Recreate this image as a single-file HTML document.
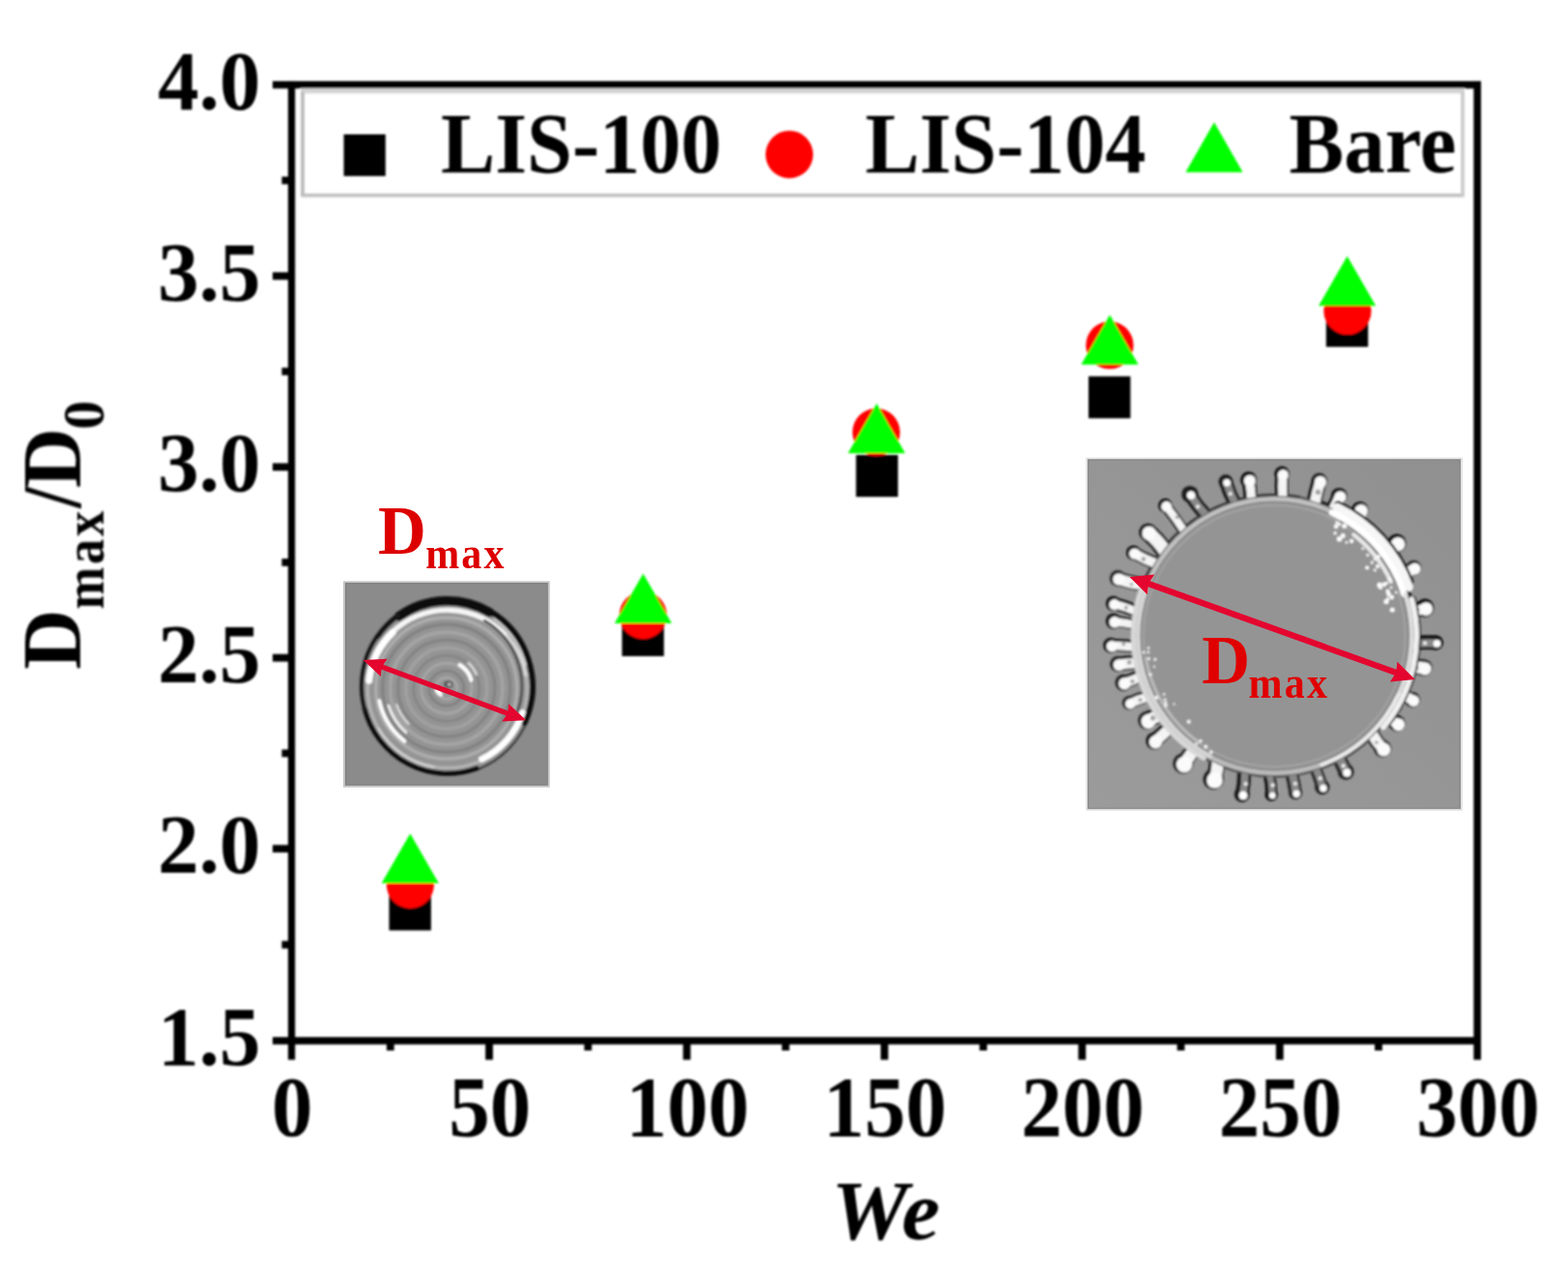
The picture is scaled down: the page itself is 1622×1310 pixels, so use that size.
<!DOCTYPE html>
<html lang="en"><head><meta charset="utf-8"><title>Dmax/D0 versus We</title>
<style>
html,body{margin:0;padding:0;background:#fff;}
body{width:1622px;height:1310px;overflow:hidden;}
svg{display:block;}
text{font-family:"Liberation Serif", "DejaVu Serif", serif;font-weight:bold;}
.tick{font-size:85px;fill:#000;}
.leg{font-size:85px;fill:#000;}
.red{fill:#dc0000;}
</style></head><body>
<svg width="1622" height="1310" viewBox="0 0 1622 1310">
<rect x="0" y="0" width="1622" height="1310" fill="#ffffff"/>
<defs><filter id="softAll" x="0" y="0" width="1622" height="1310" filterUnits="userSpaceOnUse"><feGaussianBlur stdDeviation="0.8"/></filter></defs>
<g filter="url(#softAll)">
<g fill="#000">
<rect x="282.00" y="83.95" width="1250.00" height="7.60"/>
<rect x="282.00" y="1073.10" width="1250.00" height="7.60"/>
<rect x="297.95" y="83.95" width="7.30" height="1012.65"/>
<rect x="1524.40" y="83.95" width="7.60" height="1012.65"/>
<rect x="282.00" y="874.30" width="19.60" height="7.80"/>
<rect x="282.00" y="676.80" width="19.60" height="7.80"/>
<rect x="282.00" y="479.30" width="19.60" height="7.80"/>
<rect x="282.00" y="281.70" width="19.60" height="7.80"/>
<rect x="291.50" y="973.65" width="10.10" height="7.80"/>
<rect x="291.50" y="775.55" width="10.10" height="7.80"/>
<rect x="291.50" y="578.05" width="10.10" height="7.80"/>
<rect x="291.50" y="380.50" width="10.10" height="7.80"/>
<rect x="291.50" y="182.78" width="10.10" height="7.80"/>
<rect x="502.13" y="1076.90" width="7.80" height="19.70"/>
<rect x="706.57" y="1076.90" width="7.80" height="19.70"/>
<rect x="911.00" y="1076.90" width="7.80" height="19.70"/>
<rect x="1115.43" y="1076.90" width="7.80" height="19.70"/>
<rect x="1319.87" y="1076.90" width="7.80" height="19.70"/>
<rect x="399.92" y="1076.90" width="7.80" height="10.10"/>
<rect x="604.35" y="1076.90" width="7.80" height="10.10"/>
<rect x="808.78" y="1076.90" width="7.80" height="10.10"/>
<rect x="1013.22" y="1076.90" width="7.80" height="10.10"/>
<rect x="1217.65" y="1076.90" width="7.80" height="10.10"/>
<rect x="1422.08" y="1076.90" width="7.80" height="10.10"/>
</g>
<text class="tick" transform="translate(269.50,1101.90) scale(1.0000,1.0300)" text-anchor="end">1.5</text>
<text class="tick" transform="translate(269.50,903.20) scale(1.0000,1.0300)" text-anchor="end">2.0</text>
<text class="tick" transform="translate(269.50,705.70) scale(1.0000,1.0300)" text-anchor="end">2.5</text>
<text class="tick" transform="translate(269.50,508.20) scale(1.0000,1.0300)" text-anchor="end">3.0</text>
<text class="tick" transform="translate(269.50,310.60) scale(1.0000,1.0300)" text-anchor="end">3.5</text>
<text class="tick" transform="translate(269.50,112.75) scale(1.0000,1.0300)" text-anchor="end">4.0</text>
<text class="tick" transform="translate(302.30,1174.50) scale(1.0000,1.0400)" text-anchor="middle">0</text>
<text class="tick" transform="translate(506.73,1174.50) scale(1.0000,1.0400)" text-anchor="middle">50</text>
<text class="tick" transform="translate(711.17,1174.50) scale(1.0000,1.0400)" text-anchor="middle">100</text>
<text class="tick" transform="translate(915.60,1174.50) scale(1.0000,1.0400)" text-anchor="middle">150</text>
<text class="tick" transform="translate(1120.03,1174.50) scale(1.0000,1.0400)" text-anchor="middle">200</text>
<text class="tick" transform="translate(1324.47,1174.50) scale(1.0000,1.0400)" text-anchor="middle">250</text>
<text class="tick" transform="translate(1528.90,1174.50) scale(1.0000,1.0400)" text-anchor="middle">300</text>
<text class="tick" transform="translate(860.10,1282.00) scale(1.0500,1.0300)" text-anchor="start" style="font-style:italic">We</text>
<g transform="translate(83.0,692.7) rotate(-90)">
<text class="tick" transform="translate(0.00,0.00) scale(1.0120,1.0300)" style="font-size:85.0px;letter-spacing:0.00px">D</text>
<text class="tick" transform="translate(62.30,23.70) scale(1.0000,1.1400)" style="font-size:52.5px;letter-spacing:2.80px">max</text>
<text class="tick" transform="translate(167.10,0.00) scale(0.9200,1.0300)" style="font-size:85.0px;letter-spacing:0.00px">/</text>
<text class="tick" transform="translate(187.70,0.00) scale(1.0120,1.0300)" style="font-size:85.0px;letter-spacing:0.00px">D</text>
<text class="tick" transform="translate(248.30,23.50) scale(1.0000,1.0170)" style="font-size:60.0px;letter-spacing:0.00px">0</text>
</g>
<rect x="311.2" y="91.4" width="1203.7" height="5.2" fill="#d4d4d4"/>
<rect x="311.2" y="199.6" width="1203.7" height="1.2" fill="#eeeeee"/>
<rect x="311.2" y="200.8" width="1203.7" height="2.0" fill="#ababab"/>
<rect x="311.2" y="202.8" width="1203.7" height="1.6" fill="#d6d6d6"/>
<rect x="311.2" y="95" width="3.7" height="108" fill="#b9b9b9"/>
<rect x="1511.2" y="95" width="3.7" height="108" fill="#cacaca"/>
<rect x="355.6" y="139" width="43.2" height="43.2" fill="#000"/>
<text class="leg" transform="translate(456.00,177.60) scale(0.9920,1.0450)" text-anchor="start">LIS-100</text>
<circle cx="816.5" cy="159.8" r="24.6" fill="#ff0000"/>
<text class="leg" transform="translate(895.00,177.60) scale(0.9920,1.0450)" text-anchor="start">LIS-104</text>
<polygon points="1256,126.4 1285.6,178.2 1226.4,178.2" fill="#00ff00"/>
<text class="leg" transform="translate(1333.50,177.60) scale(1.0000,1.0450)" text-anchor="start">Bare</text>
<rect x="402.5" y="919.3" width="43.4" height="43.4" fill="#000"/>
<rect x="643.4" y="635.6" width="43.4" height="43.4" fill="#000"/>
<rect x="885.5" y="470.7" width="43.4" height="43.4" fill="#000"/>
<rect x="1126.0" y="389.4" width="43.4" height="43.4" fill="#000"/>
<rect x="1371.8" y="315.5" width="43.4" height="43.4" fill="#000"/>
<circle cx="424.4" cy="915.3" r="24.6" fill="#ff0000"/>
<circle cx="665.2" cy="636.6" r="24.6" fill="#ff0000"/>
<circle cx="906.4" cy="447.2" r="24.6" fill="#ff0000"/>
<circle cx="1147.9" cy="357.2" r="24.6" fill="#ff0000"/>
<circle cx="1393.9" cy="321.7" r="24.6" fill="#ff0000"/>
<polygon points="424.3,862.5 453.9,914.0 394.7,914.0" fill="#00ff00"/>
<polygon points="665.3,593.5 694.9,645.0 635.7,645.0" fill="#00ff00"/>
<polygon points="906.8,417.4 936.4,468.9 877.2,468.9" fill="#00ff00"/>
<polygon points="1148.0,325.8 1177.6,377.3 1118.4,377.3" fill="#00ff00"/>
<polygon points="1393.6,264.9 1423.2,316.4 1364.0,316.4" fill="#00ff00"/>
</g>
<defs><filter id="blurA" x="-5%" y="-5%" width="110%" height="110%"><feGaussianBlur stdDeviation="1.1"/></filter><linearGradient id="gradR" x1="0" y1="1" x2="1" y2="0"><stop offset="0" stop-color="#9b9b9b"/><stop offset="1" stop-color="#909090"/></linearGradient><filter id="blurB" x="-5%" y="-5%" width="110%" height="110%"><feGaussianBlur stdDeviation="0.9"/></filter></defs>
<g>
<rect x="355.1" y="601.3" width="213.6" height="213.4" fill="#c4c4c4"/>
<rect x="357.0" y="603.0" width="209.8" height="209.8" fill="#828282"/>
<rect x="358.4" y="604.4" width="207.0" height="207.0" fill="#8b8b8b"/>
<g filter="url(#blurA)">
<ellipse cx="462.8" cy="710.2" rx="88" ry="90" fill="#949494"/>
<ellipse cx="461.8" cy="712.2" rx="73.0" ry="73.0" fill="none" stroke="#aeaeae" stroke-width="3.2"/>
<ellipse cx="461.8" cy="712.2" rx="66.0" ry="66.0" fill="none" stroke="#828282" stroke-width="3.2"/>
<ellipse cx="461.8" cy="712.2" rx="58.0" ry="58.0" fill="none" stroke="#a6a6a6" stroke-width="3.4"/>
<ellipse cx="461.8" cy="712.2" rx="50.0" ry="50.0" fill="none" stroke="#848484" stroke-width="3.2"/>
<ellipse cx="461.8" cy="712.2" rx="42.0" ry="42.0" fill="none" stroke="#a2a2a2" stroke-width="3.2"/>
<ellipse cx="461.8" cy="712.2" rx="34.0" ry="34.0" fill="none" stroke="#868686" stroke-width="3.0"/>
<ellipse cx="461.8" cy="712.2" rx="26.0" ry="26.0" fill="none" stroke="#a6a6a6" stroke-width="3.0"/>
<ellipse cx="461.8" cy="712.2" rx="18.0" ry="18.0" fill="none" stroke="#828282" stroke-width="2.8"/>
<ellipse cx="461.8" cy="712.2" rx="11.0" ry="11.0" fill="none" stroke="#a8a8a8" stroke-width="2.6"/>
<ellipse cx="462.8" cy="710.2" rx="89.5" ry="91.5" fill="none" stroke="#3a3a3a" stroke-width="2.4"/>
<path d="M412.9 637.7 A87.0 88.5 0 0 1 506.3 633.6" fill="none" stroke="#0a0a0a" stroke-width="9.5" stroke-linecap="round" opacity="1.00"/>
<path d="M390.7 658.9 A88.0 89.5 0 0 1 412.3 636.9" fill="none" stroke="#141414" stroke-width="5.0" stroke-linecap="round" opacity="1.00"/>
<path d="M506.8 632.7 A88.0 89.5 0 0 1 542.6 748.0" fill="none" stroke="#101010" stroke-width="6.0" stroke-linecap="round" opacity="1.00"/>
<path d="M493.1 794.8 A88.5 90.0 0 0 1 377.3 733.5" fill="none" stroke="#111111" stroke-width="5.0" stroke-linecap="round" opacity="1.00"/>
<path d="M377.2 733.5 A88.6 90.2 0 0 1 390.2 658.5" fill="none" stroke="#141414" stroke-width="4.2" stroke-linecap="round" opacity="1.00"/>
<ellipse cx="462.8" cy="712.7" rx="82.5" ry="82" fill="none" stroke="#b4b4b4" stroke-width="3.2"/>
<path d="M405.8 654.1 A82.0 81.5 0 0 1 523.7 658.2" fill="none" stroke="#f6f6f6" stroke-width="5.2" stroke-linecap="round" opacity="1.00"/>
<path d="M381.7 704.2 A81.5 81.0 0 0 1 406.2 654.4" fill="none" stroke="#ffffff" stroke-width="7.0" stroke-linecap="round" opacity="1.00"/>
<path d="M540.3 737.7 A81.5 81.0 0 0 1 498.5 785.5" fill="none" stroke="#ffffff" stroke-width="6.6" stroke-linecap="round" opacity="1.00"/>
<path d="M524.1 657.8 A82.5 82.0 0 0 1 544.0 698.5" fill="none" stroke="#dcdcdc" stroke-width="3.0" stroke-linecap="round" opacity="1.00"/>
<path d="M448.5 793.5 A82.5 82.0 0 0 1 391.4 753.7" fill="none" stroke="#cfcfcf" stroke-width="2.4" stroke-linecap="round" opacity="1.00"/>
<path d="M501.3 642.2 A77.0 78.5 0 0 1 535.2 737.0" fill="none" stroke="#484848" stroke-width="2.6" stroke-linecap="round" opacity="1.00"/>
<path d="M511.0 640.2 A84.0 85.5 0 0 1 543.9 688.1" fill="none" stroke="#d8d8d8" stroke-width="1.8" stroke-linecap="round" opacity="1.00"/>
<path d="M418.5 766.9 A72.0 72.0 0 0 1 392.4 725.2" fill="none" stroke="#ffffff" stroke-width="3.8" stroke-linecap="round" opacity="1.00"/>
<path d="M420.0 757.8 A64.0 64.0 0 0 1 401.9 730.0" fill="none" stroke="#f2f2f2" stroke-width="2.6" stroke-linecap="round" opacity="1.00"/>
<path d="M422.5 749.1 A56.0 56.0 0 0 1 410.2 729.4" fill="none" stroke="#dedede" stroke-width="2.2" stroke-linecap="round" opacity="1.00"/>
<path d="M475.6 688.1 A25.5 25.5 0 0 1 487.4 703.6" fill="none" stroke="#ffffff" stroke-width="4.0" stroke-linecap="round" opacity="1.00"/>
<path d="M484.5 686.0 A32.5 32.5 0 0 1 492.9 698.0" fill="none" stroke="#d8d8d8" stroke-width="2.4" stroke-linecap="round" opacity="1.00"/>
<ellipse cx="453.8" cy="716.2" rx="2.6" ry="5.5" transform="rotate(-40 453.8 716.2)" fill="#ffffff"/>
<ellipse cx="463.8" cy="708.2" rx="5" ry="4" fill="#5c5c5c"/>
<circle cx="464.8" cy="708.2" r="1.8" fill="#c0c0c0"/>
</g>
<polygon points="375.7,682.9 393.9,700.0 394.6,692.8 523.5,740.5 519.3,746.5 544.3,745.3 526.1,728.2 525.4,735.4 396.5,687.7 400.7,681.7" fill="#e4062f"/>
</g>
<g>
<rect x="1123.3" y="473.5" width="389.6" height="365.3" fill="#e0e0e0"/>
<rect x="1125.0" y="475.1" width="386.0" height="362.0" fill="#8c8c8c"/>
<rect x="1126.4" y="476.8" width="383.0" height="359.0" fill="url(#gradR)"/>
<g filter="url(#blurB)">
<path d="M1294.6 517.1 Q1294.1 507.0 1292.4 497.2" fill="none" stroke="#101010" stroke-width="14.1" stroke-linecap="round" transform="translate(-0.8,-0.7)"/>
<circle cx="1291.6" cy="496.5" r="8.5" fill="#101010"/>
<path d="M1277.7 521.0 Q1272.2 510.4 1268.8 499.2" fill="none" stroke="#1c1c1c" stroke-width="14.0" stroke-linecap="round" transform="translate(-0.8,-0.7)"/>
<circle cx="1268.0" cy="498.5" r="7.4" fill="#1c1c1c"/>
<path d="M1248.1 533.5 Q1238.5 523.7 1231.7 512.1" fill="none" stroke="#1c1c1c" stroke-width="13.8" stroke-linecap="round" transform="translate(-0.8,-0.7)"/>
<circle cx="1230.9" cy="511.4" r="8.7" fill="#1c1c1c"/>
<path d="M1225.0 549.7 Q1216.4 536.1 1206.2 523.8" fill="none" stroke="#0a0a0a" stroke-width="11.6" stroke-linecap="round" transform="translate(-0.8,-0.7)"/>
<circle cx="1205.4" cy="523.1" r="7.3" fill="#0a0a0a"/>
<path d="M1205.3 570.4 Q1198.0 559.5 1188.3 551.5" fill="none" stroke="#1c1c1c" stroke-width="18.2" stroke-linecap="round" transform="translate(-0.8,-0.7)"/>
<circle cx="1187.5" cy="550.8" r="9.1" fill="#1c1c1c"/>
<path d="M1196.3 583.4 Q1184.2 579.1 1173.3 572.6" fill="none" stroke="#0a0a0a" stroke-width="13.2" stroke-linecap="round" transform="translate(-0.8,-0.7)"/>
<circle cx="1172.5" cy="571.9" r="7.5" fill="#0a0a0a"/>
<path d="M1185.4 605.3 Q1170.5 604.0 1157.0 599.1" fill="none" stroke="#2a2a2a" stroke-width="14.8" stroke-linecap="round" transform="translate(-0.8,-0.7)"/>
<circle cx="1156.2" cy="598.4" r="8.3" fill="#2a2a2a"/>
<path d="M1177.3 634.0 Q1165.3 627.8 1152.4 625.2" fill="none" stroke="#101010" stroke-width="13.1" stroke-linecap="round" transform="translate(-0.8,-0.7)"/>
<circle cx="1151.6" cy="624.5" r="7.7" fill="#101010"/>
<path d="M1175.7 647.0 Q1164.3 644.3 1152.7 643.3" fill="none" stroke="#1c1c1c" stroke-width="11.7" stroke-linecap="round" transform="translate(-0.8,-0.7)"/>
<circle cx="1151.9" cy="642.6" r="8.2" fill="#1c1c1c"/>
<path d="M1326.9 515.4 Q1326.2 503.2 1326.9 491.0" fill="none" stroke="#101010" stroke-width="13.8" stroke-linecap="round" transform="translate(-0.8,-0.7)"/>
<circle cx="1326.1" cy="490.3" r="7.8" fill="#101010"/>
<path d="M1359.9 521.3 Q1362.1 509.7 1365.5 498.5" fill="none" stroke="#1c1c1c" stroke-width="15.6" stroke-linecap="round" transform="translate(-0.8,-0.7)"/>
<circle cx="1364.7" cy="497.8" r="8.2" fill="#1c1c1c"/>
<path d="M1378.8 528.5 Q1382.6 521.3 1386.0 513.9" fill="none" stroke="#101010" stroke-width="14.4" stroke-linecap="round" transform="translate(-0.8,-0.7)"/>
<circle cx="1385.2" cy="513.2" r="8.3" fill="#101010"/>
<path d="M1400.6 541.2 Q1403.4 534.3 1407.6 528.4" fill="none" stroke="#0a0a0a" stroke-width="14.7" stroke-linecap="round" transform="translate(-0.8,-0.7)"/>
<circle cx="1406.8" cy="527.7" r="8.7" fill="#0a0a0a"/>
<path d="M1433.5 573.4 Q1439.2 567.6 1445.7 562.8" fill="none" stroke="#101010" stroke-width="15.8" stroke-linecap="round" transform="translate(-0.8,-0.7)"/>
<circle cx="1444.9" cy="562.1" r="9.6" fill="#101010"/>
<path d="M1448.4 598.7 Q1455.1 592.1 1463.2 588.3" fill="none" stroke="#2a2a2a" stroke-width="14.2" stroke-linecap="round" transform="translate(-0.8,-0.7)"/>
<circle cx="1462.4" cy="587.6" r="7.9" fill="#2a2a2a"/>
<path d="M1459.3 634.2 Q1466.9 631.1 1474.8 629.7" fill="none" stroke="#0a0a0a" stroke-width="15.0" stroke-linecap="round" transform="translate(-0.8,-0.7)"/>
<circle cx="1474.0" cy="629.0" r="9.4" fill="#0a0a0a"/>
<path d="M1175.8 670.0 Q1162.8 667.6 1149.9 668.4" fill="none" stroke="#1c1c1c" stroke-width="12.9" stroke-linecap="round" transform="translate(-0.8,-0.7)"/>
<circle cx="1149.1" cy="667.7" r="8.0" fill="#1c1c1c"/>
<path d="M1178.1 686.1 Q1167.4 685.8 1157.2 687.7" fill="none" stroke="#2a2a2a" stroke-width="15.1" stroke-linecap="round" transform="translate(-0.8,-0.7)"/>
<circle cx="1156.4" cy="687.0" r="8.3" fill="#2a2a2a"/>
<path d="M1181.4 699.3 Q1172.4 704.0 1162.9 707.0" fill="none" stroke="#2a2a2a" stroke-width="14.0" stroke-linecap="round" transform="translate(-0.8,-0.7)"/>
<circle cx="1162.1" cy="706.3" r="8.7" fill="#2a2a2a"/>
<path d="M1189.7 720.7 Q1178.8 723.3 1168.9 728.0" fill="none" stroke="#2a2a2a" stroke-width="13.0" stroke-linecap="round" transform="translate(-0.8,-0.7)"/>
<circle cx="1168.1" cy="727.3" r="7.2" fill="#2a2a2a"/>
<path d="M1201.2 740.2 Q1193.6 742.0 1187.6 746.1" fill="none" stroke="#2a2a2a" stroke-width="17.3" stroke-linecap="round" transform="translate(-0.8,-0.7)"/>
<circle cx="1186.8" cy="745.4" r="9.6" fill="#2a2a2a"/>
<path d="M1211.1 752.8 Q1203.1 760.1 1195.0 767.3" fill="none" stroke="#1c1c1c" stroke-width="15.5" stroke-linecap="round" transform="translate(-0.8,-0.7)"/>
<circle cx="1194.2" cy="766.6" r="9.0" fill="#1c1c1c"/>
<path d="M1236.0 775.0 Q1230.3 782.8 1224.7 790.7" fill="none" stroke="#2a2a2a" stroke-width="16.5" stroke-linecap="round" transform="translate(-0.8,-0.7)"/>
<circle cx="1223.9" cy="790.0" r="10.6" fill="#2a2a2a"/>
<path d="M1259.7 788.5 Q1259.6 798.5 1256.1 807.0" fill="none" stroke="#1c1c1c" stroke-width="16.6" stroke-linecap="round" transform="translate(-0.8,-0.7)"/>
<circle cx="1255.3" cy="806.3" r="10.7" fill="#1c1c1c"/>
<path d="M1287.9 797.8 Q1288.1 810.6 1285.6 822.8" fill="none" stroke="#1c1c1c" stroke-width="14.1" stroke-linecap="round" transform="translate(-0.8,-0.7)"/>
<circle cx="1284.8" cy="822.1" r="8.1" fill="#1c1c1c"/>
<path d="M1313.3 801.0 Q1316.1 812.0 1315.9 822.9" fill="none" stroke="#101010" stroke-width="12.0" stroke-linecap="round" transform="translate(-0.8,-0.7)"/>
<circle cx="1315.1" cy="822.2" r="6.7" fill="#101010"/>
<path d="M1336.7 799.9 Q1339.4 810.3 1340.8 820.9" fill="none" stroke="#2a2a2a" stroke-width="13.7" stroke-linecap="round" transform="translate(-0.8,-0.7)"/>
<circle cx="1340.0" cy="820.2" r="7.0" fill="#2a2a2a"/>
<path d="M1361.1 794.6 Q1365.2 804.8 1368.5 815.3" fill="none" stroke="#2a2a2a" stroke-width="12.6" stroke-linecap="round" transform="translate(-0.8,-0.7)"/>
<circle cx="1367.7" cy="814.6" r="7.8" fill="#2a2a2a"/>
<path d="M1385.5 784.3 Q1389.1 791.9 1393.0 799.3" fill="none" stroke="#2a2a2a" stroke-width="14.9" stroke-linecap="round" transform="translate(-0.8,-0.7)"/>
<circle cx="1392.2" cy="798.6" r="8.5" fill="#2a2a2a"/>
<path d="M1419.3 759.4 Q1424.2 768.2 1431.0 775.3" fill="none" stroke="#2a2a2a" stroke-width="15.4" stroke-linecap="round" transform="translate(-0.8,-0.7)"/>
<circle cx="1430.2" cy="774.6" r="9.1" fill="#2a2a2a"/>
<path d="M1433.0 743.5 Q1440.5 745.1 1446.2 749.3" fill="none" stroke="#0a0a0a" stroke-width="14.5" stroke-linecap="round" transform="translate(-0.8,-0.7)"/>
<circle cx="1445.4" cy="748.6" r="8.3" fill="#0a0a0a"/>
<path d="M1449.3 715.5 Q1454.9 721.6 1461.9 724.8" fill="none" stroke="#2a2a2a" stroke-width="13.8" stroke-linecap="round" transform="translate(-0.8,-0.7)"/>
<circle cx="1461.1" cy="724.1" r="8.0" fill="#2a2a2a"/>
<path d="M1457.9 689.2 Q1465.9 689.9 1473.7 691.6" fill="none" stroke="#2a2a2a" stroke-width="16.6" stroke-linecap="round" transform="translate(-0.8,-0.7)"/>
<circle cx="1472.9" cy="690.9" r="8.7" fill="#2a2a2a"/>
<path d="M1461.1 666.2 Q1473.6 665.0 1486.1 665.6" fill="none" stroke="#0a0a0a" stroke-width="14.7" stroke-linecap="round" transform="translate(-0.8,-0.7)"/>
<circle cx="1485.3" cy="664.9" r="7.5" fill="#0a0a0a"/>
<circle cx="1318.3" cy="658.1" r="145.6" fill="none" stroke="#4a4a4a" stroke-width="2.4"/>
<path d="M1368.4 520.3 A146.6 146.6 0 0 1 1456.1 708.2" fill="none" stroke="#1a1a1a" stroke-width="3.4" stroke-linecap="round" opacity="1.00"/>
<path d="M1180.9 608.1 A146.2 146.2 0 0 1 1343.7 514.1" fill="none" stroke="#2c2c2c" stroke-width="2.4" stroke-linecap="round" opacity="1.00"/>
<path d="M1294.6 517.1 Q1294.1 507.0 1292.4 497.2" fill="none" stroke="#f4f4f4" stroke-width="9.0" stroke-linecap="round"/>
<circle cx="1292.8" cy="497.6" r="6.0" fill="#fbfbfb"/>
<path d="M1277.7 521.0 Q1272.2 510.4 1268.8 499.2" fill="none" stroke="#8a8a8a" stroke-width="7.8" stroke-linecap="round"/>
<circle cx="1269.2" cy="499.6" r="3.7" fill="#ffffff"/>
<circle cx="1272.7" cy="510.9" r="1.9" fill="#f4f4f4"/>
<path d="M1248.1 533.5 Q1238.5 523.7 1231.7 512.1" fill="none" stroke="#8a8a8a" stroke-width="7.6" stroke-linecap="round"/>
<circle cx="1232.1" cy="512.5" r="4.3" fill="#ffffff"/>
<circle cx="1239.0" cy="524.2" r="1.9" fill="#f4f4f4"/>
<path d="M1225.0 549.7 Q1216.4 536.1 1206.2 523.8" fill="none" stroke="#f4f4f4" stroke-width="7.8" stroke-linecap="round"/>
<circle cx="1206.6" cy="524.2" r="5.4" fill="#fbfbfb"/>
<path d="M1205.3 570.4 Q1198.0 559.5 1188.3 551.5" fill="none" stroke="#f4f4f4" stroke-width="13.0" stroke-linecap="round"/>
<circle cx="1188.7" cy="551.9" r="7.2" fill="#fbfbfb"/>
<path d="M1196.3 583.4 Q1184.2 579.1 1173.3 572.6" fill="none" stroke="#f4f4f4" stroke-width="9.5" stroke-linecap="round"/>
<circle cx="1173.7" cy="573.0" r="5.6" fill="#fbfbfb"/>
<path d="M1185.4 605.3 Q1170.5 604.0 1157.0 599.1" fill="none" stroke="#f4f4f4" stroke-width="10.7" stroke-linecap="round"/>
<circle cx="1157.4" cy="599.5" r="6.1" fill="#fbfbfb"/>
<path d="M1177.3 634.0 Q1165.3 627.8 1152.4 625.2" fill="none" stroke="#f4f4f4" stroke-width="8.2" stroke-linecap="round"/>
<circle cx="1152.8" cy="625.6" r="5.5" fill="#fbfbfb"/>
<path d="M1175.7 647.0 Q1164.3 644.3 1152.7 643.3" fill="none" stroke="#f4f4f4" stroke-width="7.9" stroke-linecap="round"/>
<circle cx="1153.1" cy="643.7" r="5.7" fill="#fbfbfb"/>
<path d="M1326.9 515.4 Q1326.2 503.2 1326.9 491.0" fill="none" stroke="#f4f4f4" stroke-width="9.0" stroke-linecap="round"/>
<circle cx="1327.3" cy="491.4" r="5.5" fill="#fbfbfb"/>
<path d="M1359.9 521.3 Q1362.1 509.7 1365.5 498.5" fill="none" stroke="#f4f4f4" stroke-width="10.5" stroke-linecap="round"/>
<circle cx="1365.9" cy="498.9" r="6.1" fill="#fbfbfb"/>
<path d="M1378.8 528.5 Q1382.6 521.3 1386.0 513.9" fill="none" stroke="#f4f4f4" stroke-width="10.5" stroke-linecap="round"/>
<circle cx="1386.4" cy="514.3" r="6.0" fill="#fbfbfb"/>
<path d="M1400.6 541.2 Q1403.4 534.3 1407.6 528.4" fill="none" stroke="#f4f4f4" stroke-width="11.0" stroke-linecap="round"/>
<circle cx="1408.0" cy="528.8" r="6.9" fill="#fbfbfb"/>
<path d="M1433.5 573.4 Q1439.2 567.6 1445.7 562.8" fill="none" stroke="#f4f4f4" stroke-width="11.9" stroke-linecap="round"/>
<circle cx="1446.1" cy="563.2" r="7.2" fill="#fbfbfb"/>
<path d="M1448.4 598.7 Q1455.1 592.1 1463.2 588.3" fill="none" stroke="#f4f4f4" stroke-width="10.3" stroke-linecap="round"/>
<circle cx="1463.6" cy="588.7" r="6.0" fill="#fbfbfb"/>
<path d="M1459.3 634.2 Q1466.9 631.1 1474.8 629.7" fill="none" stroke="#f4f4f4" stroke-width="10.1" stroke-linecap="round"/>
<circle cx="1475.2" cy="630.1" r="6.8" fill="#fbfbfb"/>
<path d="M1175.8 670.0 Q1162.8 667.6 1149.9 668.4" fill="none" stroke="#f4f4f4" stroke-width="8.4" stroke-linecap="round"/>
<circle cx="1150.3" cy="668.8" r="5.7" fill="#fbfbfb"/>
<path d="M1178.1 686.1 Q1167.4 685.8 1157.2 687.7" fill="none" stroke="#f4f4f4" stroke-width="10.2" stroke-linecap="round"/>
<circle cx="1157.6" cy="688.1" r="5.9" fill="#fbfbfb"/>
<path d="M1181.4 699.3 Q1172.4 704.0 1162.9 707.0" fill="none" stroke="#f4f4f4" stroke-width="9.3" stroke-linecap="round"/>
<circle cx="1163.3" cy="707.4" r="6.1" fill="#fbfbfb"/>
<path d="M1189.7 720.7 Q1178.8 723.3 1168.9 728.0" fill="none" stroke="#f4f4f4" stroke-width="8.9" stroke-linecap="round"/>
<circle cx="1169.3" cy="728.4" r="5.1" fill="#fbfbfb"/>
<path d="M1201.2 740.2 Q1193.6 742.0 1187.6 746.1" fill="none" stroke="#f4f4f4" stroke-width="12.1" stroke-linecap="round"/>
<circle cx="1188.0" cy="746.5" r="7.4" fill="#fbfbfb"/>
<path d="M1211.1 752.8 Q1203.1 760.1 1195.0 767.3" fill="none" stroke="#f4f4f4" stroke-width="10.7" stroke-linecap="round"/>
<circle cx="1195.4" cy="767.7" r="6.7" fill="#fbfbfb"/>
<path d="M1236.0 775.0 Q1230.3 782.8 1224.7 790.7" fill="none" stroke="#f4f4f4" stroke-width="12.0" stroke-linecap="round"/>
<circle cx="1225.1" cy="791.1" r="8.2" fill="#fbfbfb"/>
<path d="M1259.7 788.5 Q1259.6 798.5 1256.1 807.0" fill="none" stroke="#f4f4f4" stroke-width="12.0" stroke-linecap="round"/>
<circle cx="1256.5" cy="807.4" r="8.2" fill="#fbfbfb"/>
<path d="M1287.9 797.8 Q1288.1 810.6 1285.6 822.8" fill="none" stroke="#8a8a8a" stroke-width="7.2" stroke-linecap="round"/>
<circle cx="1286.0" cy="823.2" r="4.4" fill="#ffffff"/>
<circle cx="1288.6" cy="811.1" r="1.9" fill="#f4f4f4"/>
<path d="M1313.3 801.0 Q1316.1 812.0 1315.9 822.9" fill="none" stroke="#8a8a8a" stroke-width="6.5" stroke-linecap="round"/>
<circle cx="1316.3" cy="823.3" r="3.2" fill="#ffffff"/>
<circle cx="1316.6" cy="812.5" r="1.9" fill="#f4f4f4"/>
<path d="M1336.7 799.9 Q1339.4 810.3 1340.8 820.9" fill="none" stroke="#8a8a8a" stroke-width="7.8" stroke-linecap="round"/>
<circle cx="1341.2" cy="821.3" r="3.6" fill="#ffffff"/>
<circle cx="1339.9" cy="810.8" r="1.9" fill="#f4f4f4"/>
<path d="M1361.1 794.6 Q1365.2 804.8 1368.5 815.3" fill="none" stroke="#8a8a8a" stroke-width="7.1" stroke-linecap="round"/>
<circle cx="1368.9" cy="815.7" r="3.7" fill="#ffffff"/>
<circle cx="1365.7" cy="805.3" r="1.9" fill="#f4f4f4"/>
<path d="M1385.5 784.3 Q1389.1 791.9 1393.0 799.3" fill="none" stroke="#8a8a8a" stroke-width="8.4" stroke-linecap="round"/>
<circle cx="1393.4" cy="799.7" r="4.1" fill="#ffffff"/>
<circle cx="1389.6" cy="792.4" r="1.9" fill="#f4f4f4"/>
<path d="M1419.3 759.4 Q1424.2 768.2 1431.0 775.3" fill="none" stroke="#f4f4f4" stroke-width="10.8" stroke-linecap="round"/>
<circle cx="1431.4" cy="775.7" r="6.9" fill="#fbfbfb"/>
<path d="M1433.0 743.5 Q1440.5 745.1 1446.2 749.3" fill="none" stroke="#f4f4f4" stroke-width="9.9" stroke-linecap="round"/>
<circle cx="1446.6" cy="749.7" r="6.5" fill="#fbfbfb"/>
<path d="M1449.3 715.5 Q1454.9 721.6 1461.9 724.8" fill="none" stroke="#f4f4f4" stroke-width="9.9" stroke-linecap="round"/>
<circle cx="1462.3" cy="725.2" r="5.8" fill="#fbfbfb"/>
<path d="M1457.9 689.2 Q1465.9 689.9 1473.7 691.6" fill="none" stroke="#f4f4f4" stroke-width="12.1" stroke-linecap="round"/>
<circle cx="1474.1" cy="692.0" r="6.5" fill="#fbfbfb"/>
<path d="M1461.1 666.2 Q1473.6 665.0 1486.1 665.6" fill="none" stroke="#8a8a8a" stroke-width="8.1" stroke-linecap="round"/>
<circle cx="1486.5" cy="666.0" r="3.8" fill="#ffffff"/>
<circle cx="1474.1" cy="665.5" r="1.9" fill="#f4f4f4"/>
<circle cx="1217.6" cy="535.2" r="1.9" fill="#9a9a9a" opacity="0.9"/>
<circle cx="1182.9" cy="578.5" r="2.3" fill="#9a9a9a" opacity="0.9"/>
<circle cx="1170.5" cy="604.6" r="1.7" fill="#9a9a9a" opacity="0.9"/>
<circle cx="1164.9" cy="628.8" r="2.1" fill="#9a9a9a" opacity="0.9"/>
<circle cx="1363.4" cy="509.2" r="2.7" fill="#9a9a9a" opacity="0.9"/>
<circle cx="1438.3" cy="569.0" r="2.3" fill="#9a9a9a" opacity="0.9"/>
<circle cx="1466.3" cy="630.4" r="2.2" fill="#9a9a9a" opacity="0.9"/>
<circle cx="1162.3" cy="666.4" r="1.9" fill="#9a9a9a" opacity="0.9"/>
<circle cx="1168.2" cy="685.4" r="2.4" fill="#9a9a9a" opacity="0.9"/>
<circle cx="1171.4" cy="705.1" r="2.2" fill="#9a9a9a" opacity="0.9"/>
<circle cx="1179.5" cy="724.3" r="2.0" fill="#9a9a9a" opacity="0.9"/>
<circle cx="1192.6" cy="743.0" r="2.7" fill="#9a9a9a" opacity="0.9"/>
<circle cx="1423.8" cy="768.2" r="1.8" fill="#9a9a9a" opacity="0.9"/>
<circle cx="1440.8" cy="744.1" r="2.4" fill="#9a9a9a" opacity="0.9"/>
<circle cx="1465.4" cy="691.4" r="2.2" fill="#9a9a9a" opacity="0.9"/>
<circle cx="1318.3" cy="658.1" r="143.5" fill="#949494"/>
<circle cx="1318.3" cy="658.1" r="144.5" fill="none" stroke="#6a6a6a" stroke-width="1.6"/>
<circle cx="1318.3" cy="658.1" r="141.8" fill="none" stroke="#bcbcbc" stroke-width="4.4"/>
<circle cx="1318.3" cy="658.1" r="138.5" fill="none" stroke="#8a8a8a" stroke-width="1.6"/>
<circle cx="1318.3" cy="658.1" r="135.5" fill="none" stroke="#a6a6a6" stroke-width="1.6"/>
<path d="M1384.3 522.8 A150.5 150.5 0 0 1 1457.8 601.7" fill="none" stroke="#111111" stroke-width="9.0" stroke-linecap="round" opacity="1.00"/>
<path d="M1383.2 525.1 A148.0 148.0 0 0 1 1457.4 607.5" fill="none" stroke="#f6f6f6" stroke-width="9.0" stroke-linecap="round" opacity="1.00"/>
<path d="M1461.7 619.7 A148.5 148.5 0 0 1 1435.3 749.5" fill="none" stroke="#1c1c1c" stroke-width="6.0" stroke-linecap="round" opacity="1.00"/>
<path d="M1460.3 620.1 A147.0 147.0 0 0 1 1430.9 752.6" fill="none" stroke="#f0f0f0" stroke-width="5.6" stroke-linecap="round" opacity="1.00"/>
<path d="M1245.3 784.5 A146.0 146.0 0 0 1 1181.1 608.2" fill="none" stroke="#d8d8d8" stroke-width="5.0" stroke-linecap="round" opacity="1.00"/>
<path d="M1377.9 530.3 A141.0 141.0 0 0 1 1452.4 614.5" fill="none" stroke="#ffffff" stroke-width="6.5" stroke-linecap="round" opacity="1.00"/>
<path d="M1400.2 553.3 A133.0 133.0 0 0 1 1438.8 601.9" fill="none" stroke="#efefef" stroke-width="4.0" stroke-linecap="round" opacity="0.95"/>
<path d="M1386.8 539.5 A137.0 137.0 0 0 1 1447.0 611.2" fill="none" stroke="#6e6e6e" stroke-width="1.4" stroke-linecap="round" opacity="0.90"/>
<path d="M1453.4 614.2 A142.0 142.0 0 0 1 1447.0 718.1" fill="none" stroke="#e2e2e2" stroke-width="3.0" stroke-linecap="round" opacity="1.00"/>
<path d="M1447.0 718.1 A142.0 142.0 0 0 1 1366.9 791.5" fill="none" stroke="#ececec" stroke-width="3.6" stroke-linecap="round" opacity="1.00"/>
<path d="M1252.1 782.6 A141.0 141.0 0 0 1 1185.8 609.9" fill="none" stroke="#d6d6d6" stroke-width="4.0" stroke-linecap="round" opacity="1.00"/>
<path d="M1240.9 768.7 A135.0 135.0 0 0 1 1185.4 681.5" fill="none" stroke="#c2c2c2" stroke-width="3.0" stroke-linecap="round" opacity="0.80"/>
<path d="M1184.9 609.5 A142.0 142.0 0 0 1 1366.9 524.7" fill="none" stroke="#c4c4c4" stroke-width="2.2" stroke-linecap="round" opacity="1.00"/>
<circle cx="1385.3" cy="542.4" r="1.7" fill="#ffffff"/>
<circle cx="1419.3" cy="581.9" r="1.5" fill="#ffffff"/>
<circle cx="1425.9" cy="576.0" r="1.9" fill="#ffffff"/>
<circle cx="1435.9" cy="619.6" r="1.6" fill="#ffffff"/>
<circle cx="1414.2" cy="587.4" r="1.9" fill="#ffffff"/>
<circle cx="1434.0" cy="622.5" r="2.5" fill="#ffffff"/>
<circle cx="1382.9" cy="540.8" r="1.6" fill="#ffffff"/>
<circle cx="1431.9" cy="604.7" r="2.2" fill="#ffffff"/>
<circle cx="1382.1" cy="544.8" r="2.2" fill="#ffffff"/>
<circle cx="1444.2" cy="612.9" r="1.2" fill="#ffffff"/>
<circle cx="1422.3" cy="590.0" r="1.4" fill="#ffffff"/>
<circle cx="1437.4" cy="599.4" r="1.8" fill="#ffffff"/>
<circle cx="1436.6" cy="615.0" r="2.2" fill="#ffffff"/>
<circle cx="1440.3" cy="631.2" r="2.4" fill="#ffffff"/>
<circle cx="1439.8" cy="618.0" r="2.2" fill="#ffffff"/>
<circle cx="1428.1" cy="607.9" r="1.9" fill="#ffffff"/>
<circle cx="1439.1" cy="607.9" r="1.2" fill="#ffffff"/>
<circle cx="1435.6" cy="611.9" r="2.1" fill="#ffffff"/>
<circle cx="1422.1" cy="578.6" r="1.4" fill="#ffffff"/>
<circle cx="1427.1" cy="605.4" r="2.6" fill="#ffffff"/>
<circle cx="1425.0" cy="586.0" r="2.0" fill="#ffffff"/>
<circle cx="1381.1" cy="551.7" r="1.6" fill="#ffffff"/>
<circle cx="1390.7" cy="544.2" r="2.5" fill="#ffffff"/>
<circle cx="1409.8" cy="567.6" r="1.3" fill="#ffffff"/>
<circle cx="1414.8" cy="574.4" r="1.4" fill="#ffffff"/>
<circle cx="1389.2" cy="554.5" r="2.4" fill="#ffffff"/>
<circle cx="1385.5" cy="557.7" r="2.6" fill="#ffffff"/>
<circle cx="1434.5" cy="603.2" r="1.5" fill="#ffffff"/>
<circle cx="1393.0" cy="561.2" r="1.3" fill="#ffffff"/>
<circle cx="1398.1" cy="559.9" r="2.1" fill="#ffffff"/>
<circle cx="1190.0" cy="698.0" r="1.7" fill="#f4f4f4"/>
<circle cx="1241.9" cy="766.8" r="1.7" fill="#f4f4f4"/>
<circle cx="1252.8" cy="778.2" r="1.8" fill="#f4f4f4"/>
<circle cx="1206.0" cy="730.0" r="1.8" fill="#f4f4f4"/>
<circle cx="1183.1" cy="675.0" r="1.4" fill="#f4f4f4"/>
<circle cx="1204.1" cy="718.5" r="1.3" fill="#f4f4f4"/>
<circle cx="1188.0" cy="670.6" r="1.3" fill="#f4f4f4"/>
<circle cx="1247.2" cy="772.8" r="2.0" fill="#f4f4f4"/>
<circle cx="1229.7" cy="746.7" r="2.0" fill="#f4f4f4"/>
<circle cx="1188.3" cy="681.5" r="1.5" fill="#f4f4f4"/>
<circle cx="1237.6" cy="769.7" r="1.4" fill="#f4f4f4"/>
<circle cx="1196.4" cy="721.8" r="2.0" fill="#f4f4f4"/>
<circle cx="1205.8" cy="727.3" r="1.5" fill="#f4f4f4"/>
<circle cx="1214.6" cy="728.7" r="1.1" fill="#f4f4f4"/>
<circle cx="1205.1" cy="723.9" r="1.5" fill="#f4f4f4"/>
<circle cx="1194.9" cy="682.3" r="1.5" fill="#f4f4f4"/>
<circle cx="1194.0" cy="689.9" r="1.1" fill="#f4f4f4"/>
<circle cx="1187.8" cy="674.9" r="1.3" fill="#f4f4f4"/>
</g>
<polygon points="1168.4,596.9 1186.8,615.2 1187.7,607.2 1442.4,698.7 1438.0,705.5 1463.8,703.1 1445.4,684.8 1444.5,692.8 1189.8,601.3 1194.2,594.5" fill="#e4062f"/>
</g>
<text transform="translate(391.00,572.60) scale(1.0,1.03)" style="font-size:69.0px;fill:#dd0000">D</text>
<text transform="translate(440.20,588.00) scale(1.0,1.10)" style="font-size:42.0px;fill:#dd0000;letter-spacing:2.2px">max</text>
<text transform="translate(1243.20,707.00) scale(1.0,1.03)" style="font-size:69.0px;fill:#e00000">D</text>
<text transform="translate(1291.60,722.30) scale(1.0,1.10)" style="font-size:42.0px;fill:#e00000;letter-spacing:2.2px">max</text>
</svg>
</body></html>
